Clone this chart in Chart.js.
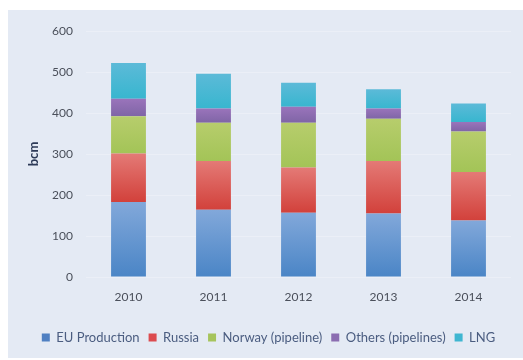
<!DOCTYPE html>
<html>
<head>
<meta charset="utf-8">
<script src="https://cdn.jsdelivr.net/npm/chart.js@4.4.1/dist/chart.umd.min.js"></script>
<style>
  html, body { margin: 0; padding: 0; background: #fff; }
  #wrap { width: 523px; height: 360px; position: relative; }
</style>
</head>
<body>
<div id="wrap"><canvas id="gasChart" width="523" height="360"></canvas></div>
<script>
// gas supply by source, bcm
var years = ['2010', '2011', '2012', '2013', '2014'];
var euProduction = [183, 164, 157, 155, 138];
var russia       = [118, 119, 110, 128, 118];
var norway       = [91, 93, 109, 103, 99];
var others       = [43, 35, 39, 25, 23];
var lng          = [87, 85, 59, 47, 45];
var yTicks = [0, 100, 200, 300, 400, 500, 600];

var seriesNames = ['EU Production', 'Russia', 'Norway (pipeline)', 'Others (pipelines)', 'LNG'];
var seriesData = [euProduction, russia, norway, others, lng];
// [legend, top of segment, bottom of segment]
var shades = [
    ['#4f80c2', '#82a8da', '#4a85c6'],
    ['#dc4b4f', '#e47a76', '#d2413b'],
    ['#a6c45c', '#b7cd6c', '#a3c457'],
    ['#8b6db1', '#9a74bb', '#7f65a6'],
    ['#3fb6d1', '#5cbad8', '#38b6cf']
];

var panelColor = '#e4eaf4';

// per-segment vertical gradient, computed from the stacked values
function segmentFill(ds) {
    return function (ctx) {
        var chart = ctx.chart;
        var y = chart.scales && chart.scales.y;
        if (!y || ctx.type !== 'data') return shades[ds][0];
        var i = ctx.dataIndex;
        var base = 0;
        for (var k = 0; k < ds; k++) base += seriesData[k][i];
        var top = base + seriesData[ds][i];
        var y0 = y.getPixelForValue(top);
        var y1 = y.getPixelForValue(base);
        if (!isFinite(y0) || !isFinite(y1) || y0 === y1) return shades[ds][0];
        var g = chart.ctx.createLinearGradient(0, y0, 0, y1);
        g.addColorStop(0, shades[ds][1]);
        g.addColorStop(1, shades[ds][2]);
        return g;
    };
}

var datasets = [];
for (var s = 0; s < seriesNames.length; s++) {
    datasets.push({
        label: seriesNames[s],
        data: seriesData[s],
        backgroundColor: segmentFill(s),
        borderWidth: 0,
        barPercentage: 0.41,
        categoryPercentage: 1.0
    });
}

var panelPlugin = {
    id: 'panel',
    beforeDraw: function (chart) {
        var c = chart.ctx;
        c.save();
        c.fillStyle = '#ffffff';
        c.fillRect(0, 0, chart.width, chart.height);
        c.fillStyle = panelColor;
        c.fillRect(8, 10, chart.width - 8, chart.height - 12);
        c.restore();
    }
};

var chart = new Chart(document.getElementById('gasChart'), {
    type: 'bar',
    data: { labels: years, datasets: datasets },
    plugins: [panelPlugin],
    options: {
        responsive: false,
        animation: false,
        devicePixelRatio: 1,
        layout: { padding: { left: 26, right: 12, top: 31, bottom: 6 } },
        plugins: {
            tooltip: { enabled: false },
            legend: {
                position: 'bottom',
                labels: {
                    generateLabels: function (ch) {
                        return seriesNames.map(function (n, i) {
                            return {
                                text: n,
                                fillStyle: shades[i][0],
                                strokeStyle: shades[i][0],
                                lineWidth: 0,
                                hidden: false,
                                datasetIndex: i,
                                fontColor: '#4b5d80'
                            };
                        });
                    },
                    boxWidth: 8,
                    boxHeight: 8,
                    padding: 9,
                    color: '#4b5d80',
                    font: { family: 'Lato', size: 13 }
                }
            }
        },
        scales: {
            x: {
                stacked: true,
                grid: { display: false, drawTicks: false },
                border: { display: false },
                ticks: {
                    color: '#4a4f5a',
                    padding: 13,
                    font: { family: 'Lato', size: 12 }
                },
                afterFit: function (scale) { scale.height = 45; }
            },
            y: {
                stacked: true,
                min: 0,
                max: 600,
                afterBuildTicks: function (scale) {
                    scale.ticks = yTicks.map(function (v) { return { value: v }; });
                },
                grid: { color: 'rgba(255,255,255,0.25)', drawTicks: false },
                border: { display: false },
                ticks: {
                    color: '#4a4f5a',
                    padding: 13,
                    font: { family: 'Lato', size: 12 }
                },
                title: {
                    display: true,
                    text: 'bcm',
                    color: '#2c3a57',
                    padding: 0,
                    font: { family: 'Lato', size: 13, weight: 'bold' }
                },
                afterFit: function (scale) { scale.width = 60; }
            }
        }
    }
});
</script>
</body>
</html>
